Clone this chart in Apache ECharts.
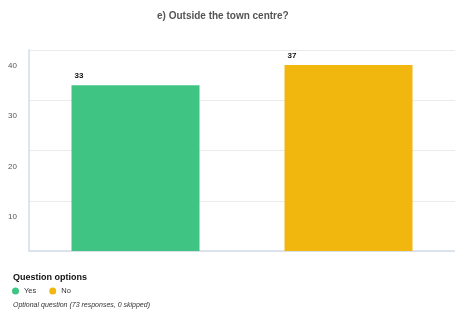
<!DOCTYPE html>
<html>
<head>
<meta charset="utf-8">
<script src="https://cdn.jsdelivr.net/npm/echarts@6/dist/echarts.min.js"></script>
<style>
  html, body { margin: 0; padding: 0; background: #fff; }
  #chart { width: 455px; height: 313px; }
</style>
</head>
<body>
<div id="chart"></div>
<script>
var categories = ['Yes', 'No'];
var yesValues = [33, null];
var noValues = [null, 37];
var colors = ['#40C483', '#F2B70F'];
var yTicks = [0, 10, 20, 30, 40];

var font = '"Liberation Sans", Arial, sans-serif';
var chart = echarts.init(document.getElementById('chart'));

var barLabel = {
  show: true,
  position: [3, -9],
  align: 'left',
  verticalAlign: 'middle',
  color: '#111',
  fontSize: 8,
  fontWeight: 'bold',
  fontFamily: font
};

var option = {
  backgroundColor: '#fff',
  animation: false,
  color: colors,
  title: [{
    text: 'e) Outside the town centre?',
    left: 152,
    top: 6,
    textStyle: { fontSize: 10, fontWeight: 'bold', color: '#555', fontFamily: font }
  }, {
    text: 'Question options',
    left: 8,
    top: 268,
    textStyle: { fontSize: 9, fontWeight: 'bold', color: '#111', fontFamily: font }
  }, {
    text: 'Optional question (73 responses, 0 skipped)',
    left: 8,
    top: 297,
    textStyle: { fontSize: 7, fontStyle: 'italic', fontWeight: 'normal', color: '#333', fontFamily: font }
  }],
  legend: {
    left: 12,
    top: 287,
    padding: 0,
    icon: 'circle',
    itemWidth: 7,
    itemHeight: 7,
    itemGap: 13,
    textStyle: { fontSize: 7.5, color: '#333', fontFamily: font },
    data: categories
  },
  grid: { left: 29, right: 0, top: 50, bottom: 62 },
  xAxis: {
    type: 'category',
    data: categories,
    axisLine: { lineStyle: { color: '#d3dde8', width: 1.5 } },
    axisTick: { show: false },
    axisLabel: { show: false }
  },
  yAxis: {
    type: 'value',
    min: yTicks[0],
    max: yTicks[yTicks.length - 1],
    interval: 10,
    axisLine: { show: true, lineStyle: { color: '#d3dde8', width: 1.5 } },
    axisTick: { show: false },
    splitLine: { lineStyle: { color: '#ebebeb' } },
    axisLabel: {
      showMinLabel: false,
      verticalAlign: 'top',
      padding: [12, 0, 0, 0],
      margin: 12,
      color: '#555',
      fontSize: 8,
      fontFamily: font
    }
  },
  series: [{
    name: categories[0],
    type: 'bar',
    data: yesValues,
    barWidth: 128,
    barGap: '-100%',
    label: barLabel
  }, {
    name: categories[1],
    type: 'bar',
    data: noValues,
    barWidth: 128,
    barGap: '-100%',
    label: barLabel
  }]
};

chart.setOption(option);
</script>
</body>
</html>
